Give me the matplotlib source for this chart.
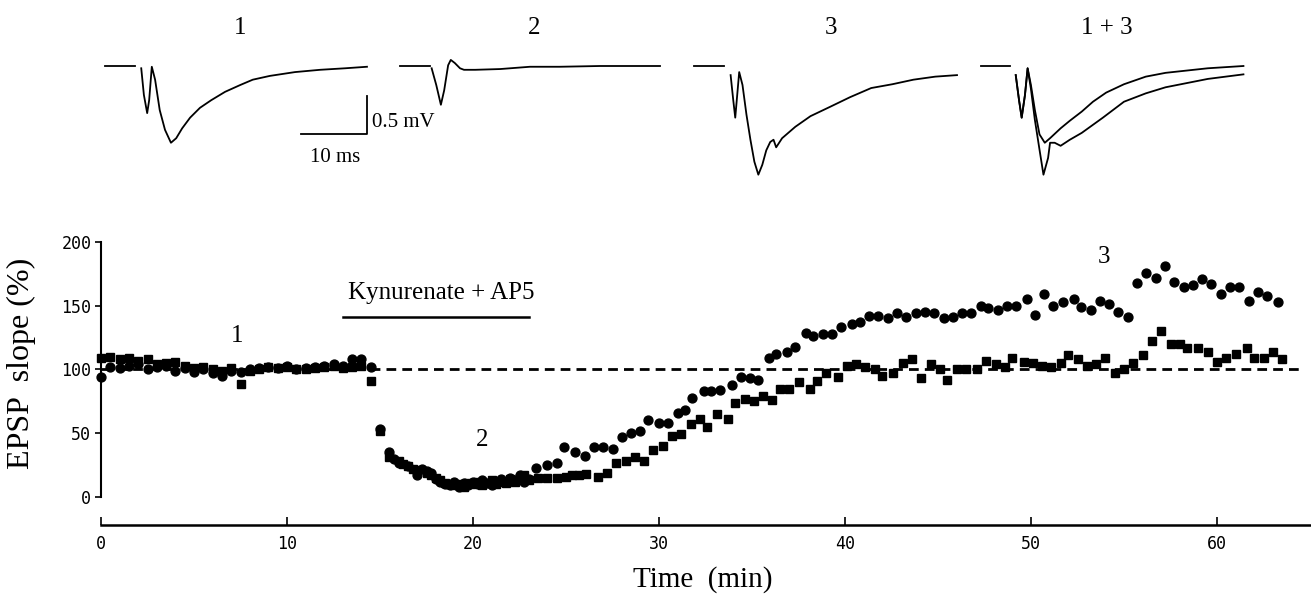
import numpy as np
import matplotlib.pyplot as plt

plt.rcParams['font.family'] = ['Liberation Serif', 'DejaVu Serif']

# ---- EPSP slope time course (min, % of baseline) ----
base_t = np.arange(0, 15, 0.5)  # baseline sampled every 0.5 min
circle_base = [94, 102, 101, 103, 104, 100, 102, 103, 99, 101, 98, 100, 97, 95, 99,
               98, 100, 101, 102, 101, 103, 100, 101, 102, 103, 104, 103, 108, 108, 102]
square_base = [109, 110, 108, 109, 107, 108, 104, 105, 106, 103, 101, 102, 100, 99, 101,
               89, 99, 100, 102, 101, 102, 100, 100, 101, 102, 103, 101, 102, 103, 91]

circle_drug_t = [15.0, 15.5, 15.75, 16.0, 16.5, 17.0, 17.25, 17.5, 17.75, 18.0, 18.25, 18.5,
                 18.75, 19.0, 19.25, 19.5, 19.75, 20.0, 20.25, 20.5, 20.75, 21.0, 21.25, 21.5,
                 21.75, 22.0, 22.25, 22.5, 22.75, 23.0]
circle_drug = [53, 35, 30, 27, 24, 17, 22, 20, 19, 14, 12, 10, 9, 12, 8, 11, 9, 12, 10, 13,
               11, 9, 12, 14, 12, 15, 13, 17, 12, 14]
square_drug_t = [15.0, 15.5, 16.0, 16.25, 16.5, 16.75, 17.0, 17.5, 17.75, 18.0, 18.25, 18.5,
                 18.75, 19.0, 19.25, 19.5, 19.75, 20.0, 20.25, 20.5, 20.75, 21.0, 21.25, 21.5,
                 21.75, 22.0, 22.25, 22.5, 22.75, 23.0]
square_drug = [52, 31, 28, 26, 24, 22, 21, 19, 17, 15, 13, 11, 10, 9, 10, 8, 11, 10, 12, 9,
               11, 13, 10, 12, 11, 14, 12, 15, 17, 13]

circle_rec_t = [23.4, 24.0, 24.5, 24.9, 25.5, 26.0, 26.5, 27.0, 27.5, 28.0, 28.5, 29.0, 29.4,
                30.0, 30.5, 31.0, 31.4, 31.8, 32.4, 32.8, 33.3, 33.9, 34.4, 34.9, 35.3, 35.9,
                36.3, 36.9, 37.3, 37.9, 38.3, 38.8, 39.3, 39.8, 40.4, 40.8, 41.3, 41.8, 42.3,
                42.8, 43.3, 43.8, 44.3, 44.8, 45.3, 45.8, 46.3, 46.8, 47.3, 47.7, 48.2, 48.7,
                49.2, 49.8, 50.2, 50.7, 51.2, 51.7, 52.3, 52.7, 53.2, 53.7, 54.2, 54.7, 55.2,
                55.7, 56.2, 56.7, 57.2, 57.7, 58.2, 58.7, 59.2, 59.7, 60.2, 60.7, 61.2, 61.7,
                62.2, 62.7, 63.3]
circle_rec = [23, 25, 27, 39, 35, 32, 39, 39, 38, 47, 50, 52, 60, 58, 58, 66, 68, 78, 83, 83,
              84, 88, 94, 93, 92, 109, 112, 114, 118, 129, 126, 128, 128, 133, 136, 137, 142,
              142, 140, 144, 141, 144, 145, 144, 140, 141, 144, 144, 150, 148, 147, 150, 150,
              155, 143, 159, 150, 153, 155, 149, 147, 154, 151, 145, 141, 168, 176, 172, 181,
              169, 165, 166, 171, 167, 159, 165, 165, 154, 161, 158, 153]
square_rec_t = [23.5, 24.0, 24.5, 25.0, 25.3, 25.7, 26.1, 26.7, 27.2, 27.7, 28.2, 28.7, 29.2,
                29.7, 30.2, 30.7, 31.2, 31.7, 32.2, 32.6, 33.1, 33.7, 34.1, 34.6, 35.1, 35.6,
                36.1, 36.5, 37.0, 37.5, 38.1, 38.5, 39.0, 39.6, 40.1, 40.6, 41.1, 41.6, 42.0,
                42.6, 43.1, 43.6, 44.1, 44.6, 45.1, 45.5, 46.0, 46.5, 47.1, 47.6, 48.1, 48.6,
                49.0, 49.6, 50.1, 50.6, 51.1, 51.6, 52.0, 52.5, 53.0, 53.5, 54.0, 54.5, 55.0,
                55.5, 56.0, 56.5, 57.0, 57.5, 58.0, 58.4, 59.0, 59.5, 60.0, 60.5, 61.0, 61.6,
                62.0, 62.5, 63.0, 63.5]
square_rec = [15, 15, 15, 16, 17, 17, 18, 16, 19, 27, 28, 31, 28, 37, 40, 48, 49, 57, 61, 55,
              65, 61, 74, 77, 75, 79, 76, 85, 85, 90, 85, 91, 97, 94, 103, 104, 102, 100, 95,
              97, 105, 108, 93, 104, 100, 92, 100, 100, 100, 107, 104, 102, 109, 106, 105, 103,
              102, 105, 111, 108, 103, 104, 109, 97, 100, 105, 111, 122, 130, 120, 120, 117,
              117, 114, 106, 109, 112, 117, 109, 109, 114, 108]

# ---- example field potential traces (ms, mV relative to baseline) ----
base_ms = [0.0, 4.5]
base_mv = [0.0, 0.0]
trace1_ms = [5.5, 5.9, 6.4, 6.7, 7.1, 7.6, 8.3, 9.1, 10.0, 10.8, 11.7, 12.9, 14.4, 16.1, 18.2,
             20.5, 22.4, 25.0, 28.8, 32.6, 36.4, 39.7]
trace1_mv = [-0.03, -0.38, -0.62, -0.45, -0.01, -0.18, -0.58, -0.84, -1.01, -0.95, -0.82,
             -0.68, -0.55, -0.45, -0.34, -0.25, -0.18, -0.13, -0.08, -0.05, -0.03, -0.01]
trace2_ms = [4.8, 5.5, 6.2, 6.7, 7.3, 7.7, 8.3, 9.1, 9.7, 11.4, 15.2, 19.7, 24.2, 30.3, 34.8, 39.4]
trace2_mv = [-0.03, -0.25, -0.51, -0.32, 0.01, 0.08, 0.04, -0.03, -0.05, -0.05, -0.04, -0.01,
             -0.01, 0.0, 0.0, 0.0]
trace3_ms = [5.5, 5.9, 6.2, 6.5, 6.8, 7.3, 7.9, 8.5, 9.1, 9.7, 10.3, 10.9, 11.5, 12.0, 12.4,
             13.3, 15.3, 17.6, 20.5, 23.6, 26.8, 30.0, 33.2, 36.5, 39.8]
trace3_mv = [-0.12, -0.45, -0.68, -0.38, -0.08, -0.25, -0.64, -0.97, -1.26, -1.43, -1.30,
             -1.11, -1.00, -0.97, -1.07, -0.95, -0.80, -0.66, -0.54, -0.41, -0.29, -0.24,
             -0.18, -0.14, -0.12]
trace4a_ms = [5.3, 5.8, 6.2, 6.7, 7.1, 7.6, 8.2, 8.9, 9.7, 10.5, 12.1, 13.5, 15.3, 17.0, 19.0,
              21.7, 25.0, 28.0, 34.4, 39.8]
trace4a_mv = [-0.12, -0.45, -0.68, -0.38, -0.03, -0.25, -0.58, -0.90, -1.01, -0.95, -0.82,
              -0.72, -0.60, -0.47, -0.35, -0.24, -0.14, -0.09, -0.03, 0.0]
trace4b_ms = [5.3, 5.8, 6.2, 6.7, 7.1, 7.6, 8.2, 8.9, 9.5, 10.2, 10.5, 11.2, 12.1, 13.5, 15.3,
              18.5, 21.7, 25.0, 28.0, 34.4, 39.8]
trace4b_mv = [-0.12, -0.45, -0.68, -0.38, -0.03, -0.30, -0.71, -1.10, -1.43, -1.21, -1.01,
              -1.01, -1.05, -0.97, -0.88, -0.68, -0.47, -0.36, -0.28, -0.17, -0.11]

panel_labels = ['1', '2', '3', '1 + 3']


def plot_traces(fig):
    ax = fig.add_axes([0, 1 - 200 / 598, 1, 200 / 598])
    ax.set_xlim(0, 1311 / 6.6)
    ax.set_ylim(-134 / 76, 66 / 76)
    ax.axis('off')
    lw = 1.3
    x0 = [15.9, 60.6, 105.2, 148.6]
    traces = [[(trace1_ms, trace1_mv)], [(trace2_ms, trace2_mv)], [(trace3_ms, trace3_mv)],
              [(trace4a_ms, trace4a_mv), (trace4b_ms, trace4b_mv)]]
    label_x = [36.4, 80.9, 125.9, 167.7]
    for i in range(4):
        ax.plot(np.array(base_ms) + x0[i], base_mv, color='black', lw=lw)
        for ms, mv in traces[i]:
            ax.plot(np.array(ms) + x0[i], mv, color='black', lw=lw)
        ax.text(label_x[i], 0.5, panel_labels[i], ha='center', va='center', fontsize=18)
    # scale bar
    ax.plot([45.6, 55.6, 55.6], [-0.89, -0.89, -0.39], color='black', lw=1.3)
    ax.text(56.3, -0.74, '0.5 mV', ha='left', va='center', fontsize=15)
    ax.text(50.8, -1.2, '10 ms', ha='center', va='center', fontsize=15)


def plot_slope(fig):
    ax = fig.add_axes([101 / 1311, 73 / 598, 1209 / 1311, 283 / 598])
    ax.set_xlim(0, 65)
    ax.set_ylim(-22, 200)

    sq_t = np.concatenate([base_t, square_drug_t, square_rec_t])
    sq_v = np.concatenate([square_base, square_drug, square_rec])
    ci_t = np.concatenate([base_t, circle_drug_t, circle_rec_t])
    ci_v = np.concatenate([circle_base, circle_drug, circle_rec])

    ax.plot([0, 64.7], [100, 100], color='black', lw=2.0, dashes=(3.5, 2.2))
    ax.plot(sq_t, sq_v, 's', ms=5.8, color='black', clip_on=False)
    ax.plot(ci_t, ci_v, 'o', ms=6.4, color='black', clip_on=False)

    # drug application bar
    ax.plot([13, 23], [141, 141], color='black', lw=1.8)
    ax.text(18.3, 160, 'Kynurenate + AP5', ha='center', va='center', fontsize=18)
    ax.text(7.3, 126, '1', ha='center', va='center', fontsize=18)
    ax.text(20.5, 45, '2', ha='center', va='center', fontsize=18)
    ax.text(53.9, 188, '3', ha='center', va='center', fontsize=18)

    for s in ['top', 'right']:
        ax.spines[s].set_visible(False)
    ax.spines['left'].set_bounds(0, 200)
    ax.spines['bottom'].set_bounds(0, 65)
    ax.spines['left'].set_linewidth(1.5)
    ax.spines['bottom'].set_linewidth(1.8)
    ax.set_yticks([0, 50, 100, 150, 200])
    ax.set_xticks([0, 10, 20, 30, 40, 50, 60])
    ax.tick_params(axis='y', direction='out', length=4, width=1.2, pad=3, labelsize=12)
    ax.tick_params(axis='x', direction='in', length=6, width=1.2, pad=7, labelsize=12)
    for lbl in ax.get_xticklabels() + ax.get_yticklabels():
        lbl.set_family('DejaVu Sans Mono')

    ax.set_ylabel('EPSP  slope (%)', fontsize=23)
    ax.yaxis.set_label_coords(-0.054, 0.572)
    ax.set_xlabel('Time  (min)', fontsize=21)
    ax.xaxis.set_label_coords((703 - 101) / 1209, -0.145)


def main():
    fig = plt.figure(figsize=(13.11, 5.98), dpi=100)
    plot_traces(fig)
    plot_slope(fig)
    fig.savefig('out.png', dpi=100)


main()
